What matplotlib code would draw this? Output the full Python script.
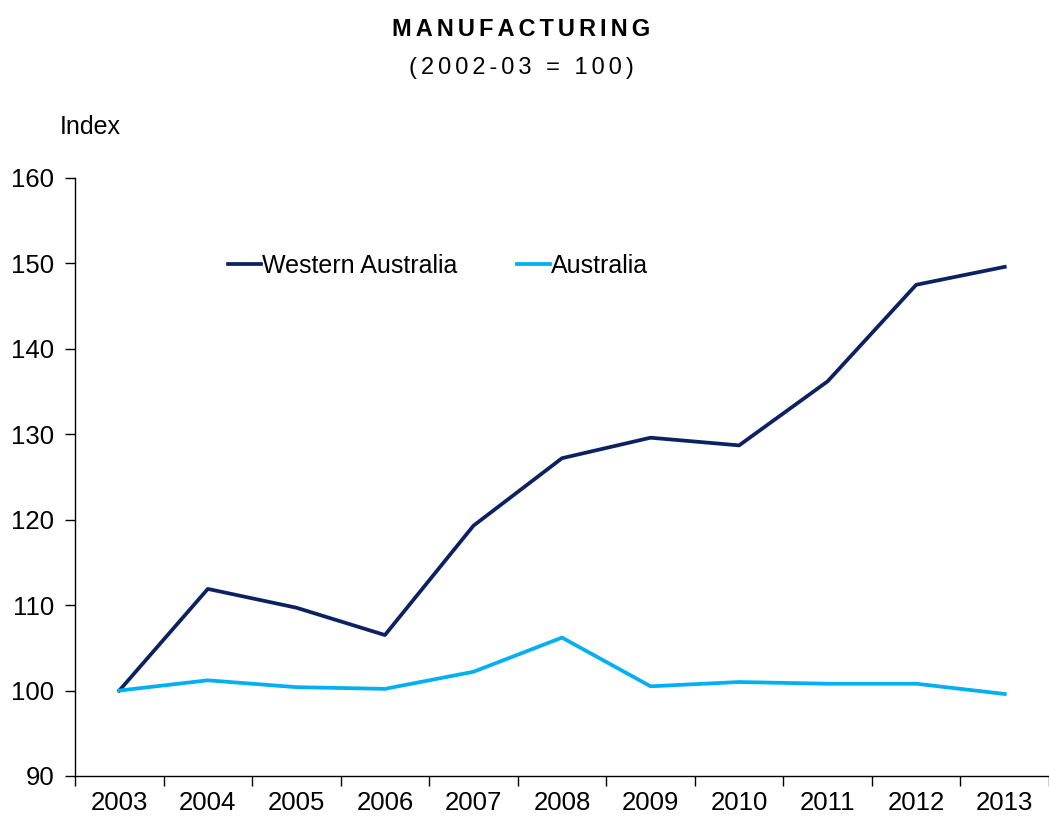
import matplotlib
matplotlib.use("Agg")
import matplotlib.pyplot as plt

years = ["2003", "2004", "2005", "2006", "2007", "2008",
         "2009", "2010", "2011", "2012", "2013"]
western_australia = [100.0, 111.9, 109.7, 106.5, 119.3, 127.2,
                     129.6, 128.7, 136.2, 147.5, 149.6]
australia = [100.0, 101.2, 100.4, 100.2, 102.2, 106.2,
             100.5, 101.0, 100.8, 100.8, 99.6]

plt.rcParams['font.family'] = ['Liberation Sans', 'DejaVu Sans']

fig = plt.figure(figsize=(10.49, 8.17), dpi=100)
ax = fig.add_axes([75 / 1049, 1 - 776 / 817, 1 - 75 / 1049, (776 - 178) / 817])

x = list(range(len(years)))
ax.plot(x, western_australia, color="#0C2161", lw=2.7, label="Western Australia")
ax.plot(x, australia, color="#00B0F0", lw=2.7, label="Australia")

ax.set_ylim(90, 160)
ax.set_yticks(range(90, 161, 10))
ax.set_xlim(-0.5, -0.5 + 974 / 89.7)
ax.set_xticks(x)
ax.set_xticklabels(years)
ax.set_xticks([i - 0.5 for i in range(len(years) + 1)], minor=True)
ax.tick_params(axis="x", which="major", length=0, pad=11, labelsize=18.5)
ax.tick_params(axis="x", which="minor", length=7, width=1)
ax.tick_params(axis="y", length=7, width=1, pad=8, labelsize=18.5)
for s in ["top", "right"]:
    ax.spines[s].set_visible(False)
for s in ["left", "bottom"]:
    ax.spines[s].set_linewidth(1)

ax.legend(loc="center left", bbox_to_anchor=(228 / 1049, 1 - 266 / 817),
          bbox_transform=fig.transFigure, ncol=2, frameon=False,
          fontsize=18, handlelength=1.3, handletextpad=0.05,
          columnspacing=2.4, borderaxespad=0, borderpad=0)

hs = "\u200a"
fig.text(521 / 1049, 1 - 30 / 817, (hs * 2).join("MANUFACTURING"),
         ha="center", va="center", fontsize=17, fontweight="bold")
fig.text(521 / 1049, 1 - 68 / 817, (hs * 2).join("(2002-03 = 100)"),
         ha="center", va="center", fontsize=17)
fig.text(60 / 1049, 1 - 127 / 817, "Index", ha="left", va="center", fontsize=18)

fig.savefig("out.png", dpi=100)
